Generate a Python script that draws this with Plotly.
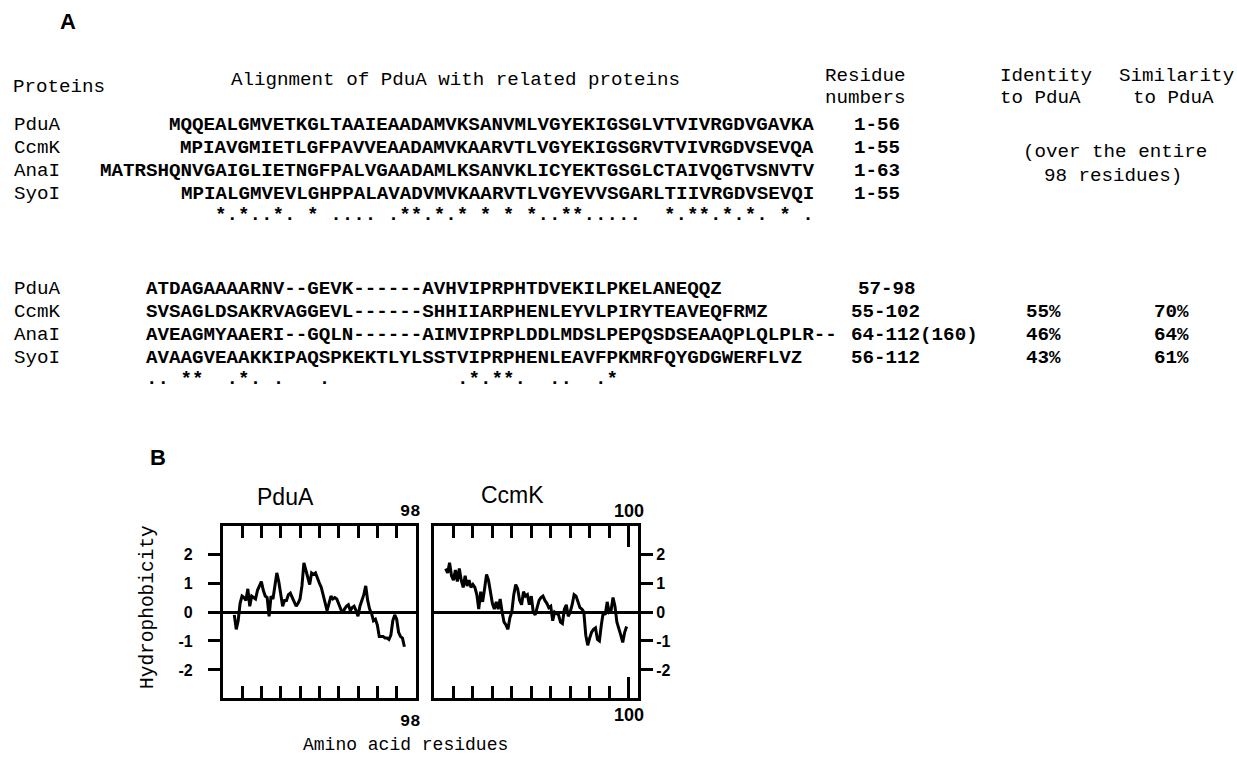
import plotly.graph_objects as go

# ---------------- data ----------------
proteins = ["PduA", "CcmK", "AnaI", "SyoI"]

seq_block1 = [
    "MQQEALGMVETKGLTAAIEAADAMVKSANVMLVGYEKIGSGLVTVIVRGDVGAVKA",
    "MPIAVGMIETLGFPAVVEAADAMVKAARVTLVGYEKIGSGRVTVIVRGDVSEVQA",
    "MATRSHQNVGAIGLIETNGFPALVGAADAMLKSANVKLICYEKTGSGLCTAIVQGTVSNVTV",
    "MPIALGMVEVLGHPPALAVADVMVKAARVTLVGYEVVSGARLTIIVRGDVSEVQI",
]
cons_block1 = "*.*..*. * .... .**.*.* * * *..**.....  *.**.*.*. * ."
res_block1 = ["1-56", "1-55", "1-63", "1-55"]

seq_block2 = [
    "ATDAGAAAARNV--GEVK------AVHVIPRPHTDVEKILPKELANEQQZ",
    "SVSAGLDSAKRVAGGEVL------SHHIIARPHENLEYVLPIRYTEAVEQFRMZ",
    "AVEAGMYAAERI--GQLN------AIMVIPRPLDDLMDSLPEPQSDSEAAQPLQLPLR--",
    "AVAAGVEAAKKIPAQSPKEKTLYLSSTVIPRPHENLEAVFPKMRFQYGDGWERFLVZ",
]
cons_block2 = ".. **  .*. .   .           .*.**.  ..  .*"
res_block2 = ["57-98", "55-102", "64-112(160)", "56-112"]
identity = ["", "55%", "46%", "43%"]
similarity = ["", "70%", "64%", "61%"]

pdua_res = list(range(6, 95))
pdua_hyd = [-0.1, -0.6, -0.3, 0.3, 0.55, 0.5, 0.4, 0.8, 0.2, 0.55,
            0.5, 0.45, 0.75, 0.9, 1.05, 0.75, 0.55, 0.5, -0.15, 0.55,
            0.45, 0.9, 1.35, 1.05, 0.6, 0.2, 0.4, 0.4, 0.6, 0.65,
            0.5, 0.35, 0.2, 0.3, 0.45, 0.9, 1.7, 1.45, 1.2, 0.95,
            1.35, 1.3, 1.35, 1.15, 1.0, 0.85, 0.55, 0.3, 0.05, 0.3,
            0.55, 0.45, 0.5, 0.45, 0.3, 0.15, -0.05, 0.1, 0.2, 0.25,
            0.05, 0.15, 0.2, 0.05, -0.15, 0.2, 0.4, 0.6, 0.9, 0.4,
            0.1, -0.05, -0.3, -0.25, -0.45, -0.85, -0.85, -0.85, -0.9, -0.9,
            -0.95, -0.8, -0.3, -0.1, -0.25, -0.7, -0.85, -0.9, -1.2]

ccmk_res = list(range(6, 100))
ccmk_hyd = [1.5, 1.35, 1.7, 1.25, 1.1, 1.45, 1.05, 1.5, 1.1, 0.85,
            1.25, 0.9, 1.1, 0.85, 0.95, 0.85, 0.6, 0.1, 0.7, 0.35,
            0.8, 1.3, 1.1, 0.75, 0.3, 0.1, 0.35, 0.1, 0.45, 0.0,
            -0.35, -0.45, -0.6, -0.2, 0.0, 0.6, 0.95, 0.8, 0.4, 0.25,
            0.7, 0.55, 0.6, 0.25, 0.55, 0.0, -0.1, 0.15, 0.4, 0.5,
            0.55, 0.4, 0.3, 0.15, 0.2, -0.3, 0.0, -0.05, -0.1, -0.35,
            -0.4, 0.1, 0.25, -0.15, 0.0, 0.25, 0.6, 0.55, 0.35, 0.15,
            0.1, 0.0, -0.8, -1.15, -0.9, -0.7, -0.6, -0.55, -0.95, -1.0,
            -0.45, 0.0, -0.1, 0.35, 0.0, 0.05, 0.5, 0.2, -0.35, -0.55,
            -0.8, -1.05, -0.7, -0.5]

x_ticks = [10, 20, 30, 40, 50, 60, 70, 80, 90]
y_ticks = [-2, -1, 0, 1, 2]
y_ticktext = ["-2", "-1", "0", "1", "2"]

# ---------------- layout helpers ----------------
W, H = 1237, 763
def px(x):
    return x / W
def py(y):
    return 1 - y / H
def nb(s):
    return s.replace(" ", "\u00a0")

MONO = "Liberation Mono"
SANS = "Liberation Sans"
FS = 19.2

anns = []
def txt(s, x, y, anchor="left", size=FS, family=MONO, weight="normal", angle=0):
    anns.append(dict(text=nb(s), x=px(x), y=py(y), xref="paper", yref="paper",
                     xanchor=anchor, yanchor="middle", showarrow=False,
                     textangle=angle, borderpad=0,
                     font=dict(family=family, size=size, color="black", weight=weight)))

# Panel A header
txt("A", 68, 22, anchor="center", size=22, family=SANS, weight="bold")
txt("Proteins", 12, 87)
txt("Alignment of PduA with related proteins", 230, 80)
txt("Residue", 824, 76)
txt("numbers", 824, 98)
txt("Identity", 999, 76)
txt("to PduA", 999, 98)
txt("Similarity", 1118, 76)
txt("to PduA", 1132, 98)
txt("(over the entire", 1022, 152)
txt("98 residues)", 1043, 176)

rows1 = [125, 148, 171, 194]
rows2 = [289, 312, 335, 358]
for i, name in enumerate(proteins):
    txt(name, 13, rows1[i])
    txt(seq_block1[i], 815, rows1[i], anchor="right", weight="bold")
    txt(res_block1[i], 853, rows1[i], weight="bold")
    txt(name, 13, rows2[i])
    txt(seq_block2[i], 145, rows2[i], weight="bold")
    txt(res_block2[i], 917 if i == 0 else 850, rows2[i],
        anchor="right" if i == 0 else "left", weight="bold")
    if identity[i]:
        txt(identity[i], 1025, rows2[i], weight="bold")
        txt(similarity[i], 1153, rows2[i], weight="bold")
txt(cons_block1, 815, 215, anchor="right", weight="bold")
txt(cons_block2, 145, 379, weight="bold")

# Panel B labels
txt("B", 158, 457, anchor="center", size=22, family=SANS, weight="bold")
txt("PduA", 285, 497, anchor="center", size=23, family=SANS)
txt("CcmK", 512, 495, anchor="center", size=23, family=SANS)
txt("98", 410, 511, anchor="center", size=17, family=MONO, weight="bold")
txt("98", 410, 721, anchor="center", size=17, family=MONO, weight="bold")
txt("100", 629, 511, anchor="center", size=18, family=SANS, weight="bold")
txt("100", 629, 715, anchor="center", size=18, family=SANS, weight="bold")
txt("Hydrophobicity", 148, 607, anchor="center", angle=-90, size=19.5)
txt("Amino acid residues", 405, 745, anchor="center", size=18)

fig = go.Figure()
fig.add_trace(go.Scatter(x=pdua_res, y=pdua_hyd, mode="lines",
                         line=dict(color="black", width=3),
                         xaxis="x", yaxis="y", showlegend=False))
fig.add_trace(go.Scatter(x=ccmk_res, y=ccmk_hyd, mode="lines",
                         line=dict(color="black", width=3),
                         xaxis="x2", yaxis="y2", showlegend=False))
fig.add_trace(go.Scatter(x=[], y=[], xaxis="x3", yaxis="y2", showlegend=False))

ydom = [py(698), py(526)]
yr = [-2.97, 2.97]
xcommon = dict(tickvals=x_ticks, ticks="inside", ticklen=12, tickwidth=2.5,
               tickcolor="black", mirror="ticks", showline=True, linewidth=2.5,
               linecolor="black", showticklabels=False, showgrid=False,
               zeroline=False)
ycommon = dict(range=yr, tickvals=y_ticks, ticktext=y_ticktext, ticks="outside",
               ticklen=12, tickwidth=2.5, tickcolor="black", mirror=True,
               showline=True, linewidth=2.5, linecolor="black", showgrid=False,
               zeroline=True, zerolinecolor="black", zerolinewidth=2.5,
               tickfont=dict(family=SANS, size=16, color="black", weight="bold"))

fig.update_layout(
    width=W, height=H,
    margin=dict(l=0, r=0, t=0, b=0),
    paper_bgcolor="white", plot_bgcolor="white",
    xaxis=dict(domain=[px(222.7), px(416)], range=[0, 100], anchor="y", **xcommon),
    yaxis=dict(domain=ydom, anchor="x", side="left", ticklabelstandoff=12, **ycommon),
    xaxis2=dict(domain=[px(434), px(638.3)], range=[0, 105], anchor="y2", **xcommon),
    yaxis2=dict(domain=ydom, anchor="x2", side="right", **ycommon),
    xaxis3=dict(overlaying="x2", range=[0, 105], anchor="y2", tickvals=[100],
                ticks="inside", ticklen=21, tickwidth=2.5, tickcolor="black",
                mirror="ticks", showline=True, linewidth=2.5, linecolor="black",
                showticklabels=False, showgrid=False, zeroline=False),
    annotations=anns,
)

fig.write_html("out.html", config={"displayModeBar": False},
               post_script="document.body.style.margin='0';document.body.style.overflow='hidden';")
